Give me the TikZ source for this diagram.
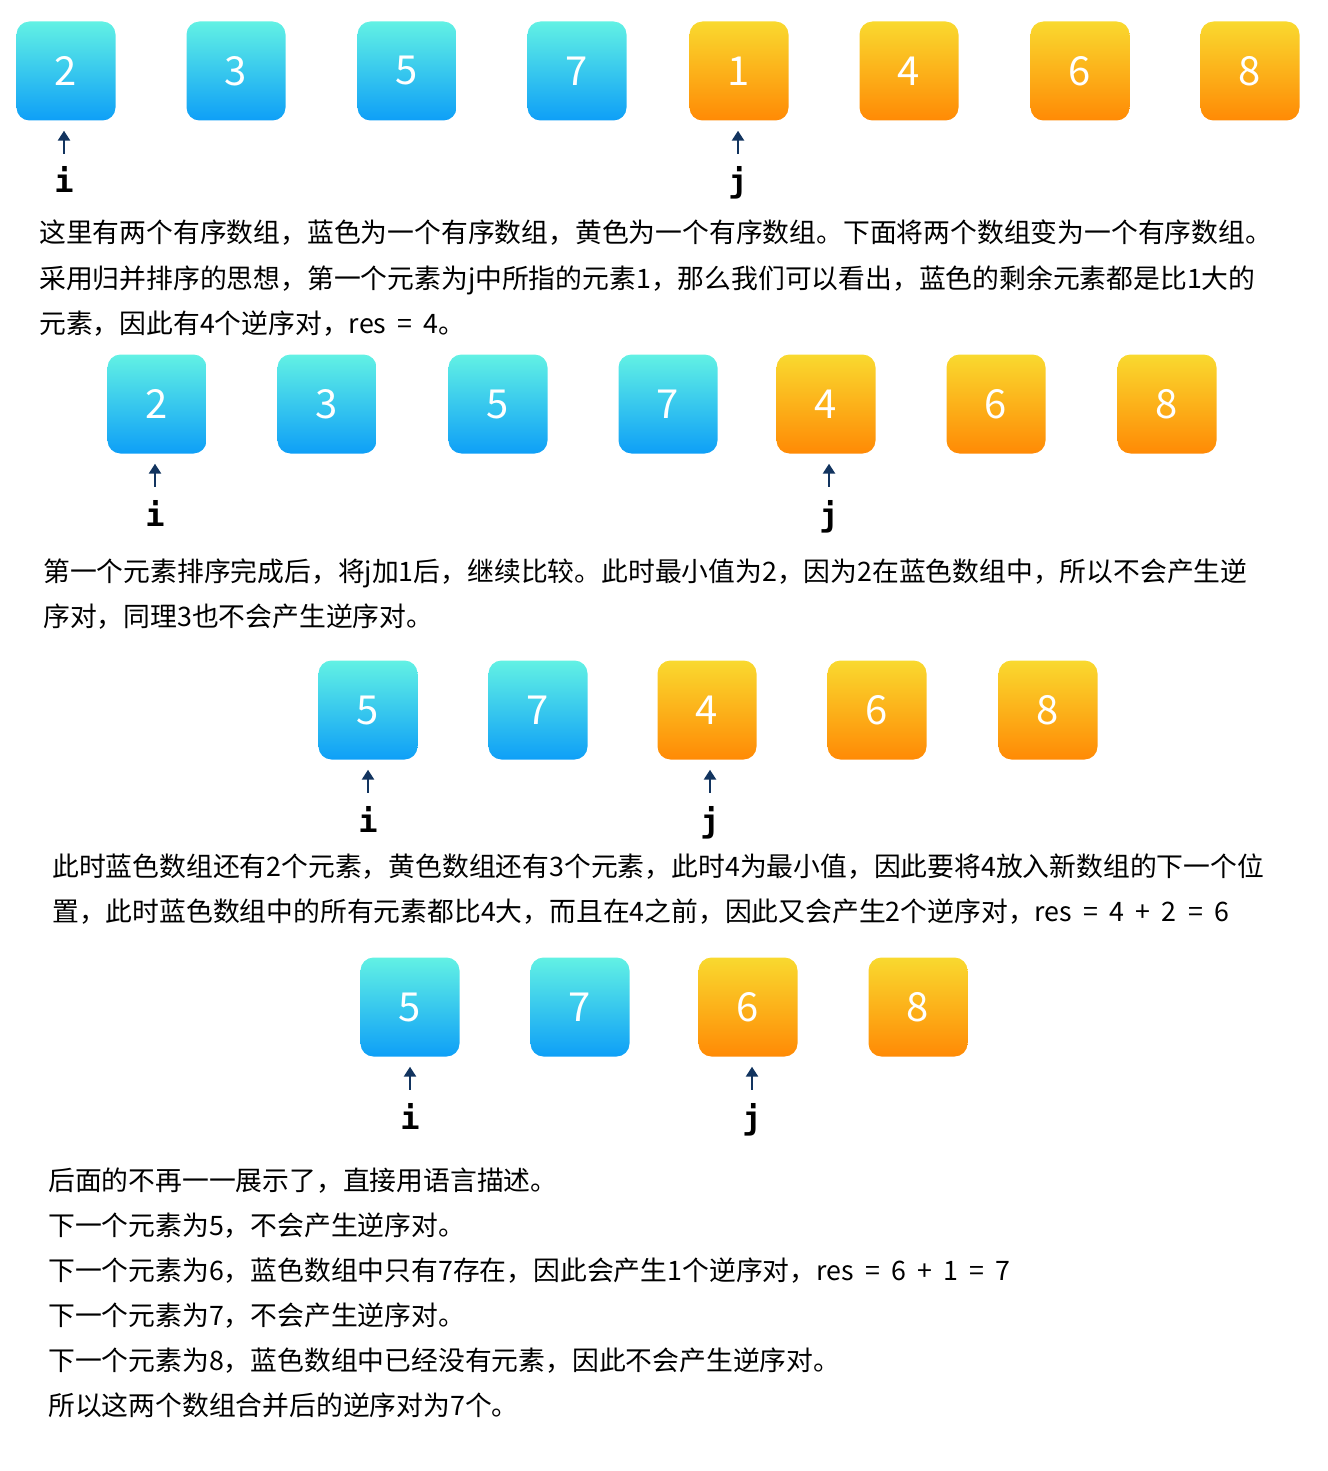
\documentclass[tikz,border=0pt]{standalone}
\usepackage{fontspec}
\setmainfont{Noto Sans CJK SC}
\newfontfamily\monof{DejaVu Sans Mono}
\usetikzlibrary{arrows.meta}
\definecolor{bluetop}{HTML}{62F1E4}
\definecolor{bluebot}{HTML}{0E9FF7}
\definecolor{orangetop}{HTML}{F9D92F}
\definecolor{orangebot}{HTML}{FF8A05}
\definecolor{navy}{HTML}{12345F}
\newcommand\wsp{\hspace{0.42em}}
\begin{document}
\begin{tikzpicture}[x=1pt,y=-1pt,
  cell/.style={minimum width=99pt,minimum height=99pt,rounded corners=13pt,inner sep=0pt,text=white,font=\fontsize{40}{40}\selectfont},
  bcell/.style={cell,top color=bluetop,bottom color=bluebot},
  ocell/.style={cell,top color=orangetop,bottom color=orangebot},
  ptr/.style={draw=navy,line width=2.8pt,shorten <=13pt,shorten >=10pt,-{Triangle[length=10pt,width=12pt]}},
  lbl/.style={anchor=base,inner sep=0pt,font=\monof\bfseries\fontsize{32}{32}\selectfont},
  txt/.style={anchor=base west,inner sep=0pt,font=\fontsize{26.8}{26.8}\selectfont}]
\useasboundingbox (0,0) rectangle (1327,1471);

% ---- row 1
\node[bcell] (r1a) at (66,71) {2};
\node[bcell] (r1b) at (236,71) {3};
\node[bcell] (r1c) at (407,71) {5};
\node[bcell] (r1d) at (577,71) {7};
\node[ocell] (r1e) at (739,71) {1};
\node[ocell] (r1f) at (909,71) {4};
\node[ocell] (r1g) at (1080,71) {6};
\node[ocell] (r1h) at (1250,71) {8};
\node[lbl] (i1) at (64,193) {i};
\node[lbl] (j1) at (738,193) {j};
\draw[ptr] (i1.north) -- (i1.north |- r1a.south);
\draw[ptr] (j1.north) -- (j1.north |- r1e.south);

\node[txt] (p1a) at (39,243) {这里有两个有序数组，蓝色为一个有序数组，黄色为一个有序数组。下面将两个数组变为一个有序数组。};
\node[txt] (p1b) at (39,288) {采用归并排序的思想，第一个元素为j中所指的元素1，那么我们可以看出，蓝色的剩余元素都是比1大的};
\node[txt] (p1c) at (39,333) {元素，因此有4个逆序对，res\wsp=\wsp4。};

% ---- row 2
\node[bcell] (r2a) at (157,404) {2};
\node[bcell] (r2b) at (327,404) {3};
\node[bcell] (r2c) at (498,404) {5};
\node[bcell] (r2d) at (668,404) {7};
\node[ocell] (r2e) at (826,404) {4};
\node[ocell] (r2f) at (996,404) {6};
\node[ocell] (r2g) at (1167,404) {8};
\node[lbl] (i2) at (155,526) {i};
\node[lbl] (j2) at (829,526) {j};
\draw[ptr] (i2.north) -- (i2.north |- r2a.south);
\draw[ptr] (j2.north) -- (j2.north |- r2e.south);

\node[txt] (p2a) at (43,581) {第一个元素排序完成后，将j加1后，继续比较。此时最小值为2，因为2在蓝色数组中，所以不会产生逆};
\node[txt] (p2b) at (43,626) {序对，同理3也不会产生逆序对。};

% ---- row 3
\node[bcell] (r3a) at (368,710) {5};
\node[bcell] (r3b) at (538,710) {7};
\node[ocell] (r3c) at (707,710) {4};
\node[ocell] (r3d) at (877,710) {6};
\node[ocell] (r3e) at (1048,710) {8};
\node[lbl] (i3) at (368,832) {i};
\node[lbl] (j3) at (710,832) {j};
\draw[ptr] (i3.north) -- (i3.north |- r3a.south);
\draw[ptr] (j3.north) -- (j3.north |- r3c.south);

\node[txt] (p3a) at (52,876) {此时蓝色数组还有2个元素，黄色数组还有3个元素，此时4为最小值，因此要将4放入新数组的下一个位};
\node[txt] (p3b) at (52,921) {置，此时蓝色数组中的所有元素都比4大，而且在4之前，因此又会产生2个逆序对，res\wsp=\wsp4\wsp+\wsp2\wsp=\wsp6};

% ---- row 4
\node[bcell] (r4a) at (410,1007) {5};
\node[bcell] (r4b) at (580,1007) {7};
\node[ocell] (r4c) at (748,1007) {6};
\node[ocell] (r4d) at (918,1007) {8};
\node[lbl] (i4) at (410,1129) {i};
\node[lbl] (j4) at (752,1129) {j};
\draw[ptr] (i4.north) -- (i4.north |- r4a.south);
\draw[ptr] (j4.north) -- (j4.north |- r4c.south);

\node[txt] (p4a) at (48,1190) {后面的不再一一展示了，直接用语言描述。};
\node[txt] (p4b) at (48,1235) {下一个元素为5，不会产生逆序对。};
\node[txt] (p4c) at (48,1280) {下一个元素为6，蓝色数组中只有7存在，因此会产生1个逆序对，res\wsp=\wsp6\wsp+\wsp1\wsp=\wsp7};
\node[txt] (p4d) at (48,1325) {下一个元素为7，不会产生逆序对。};
\node[txt] (p4e) at (48,1370) {下一个元素为8，蓝色数组中已经没有元素，因此不会产生逆序对。};
\node[txt] (p4f) at (48,1415) {所以这两个数组合并后的逆序对为7个。};
\end{tikzpicture}
\end{document}
